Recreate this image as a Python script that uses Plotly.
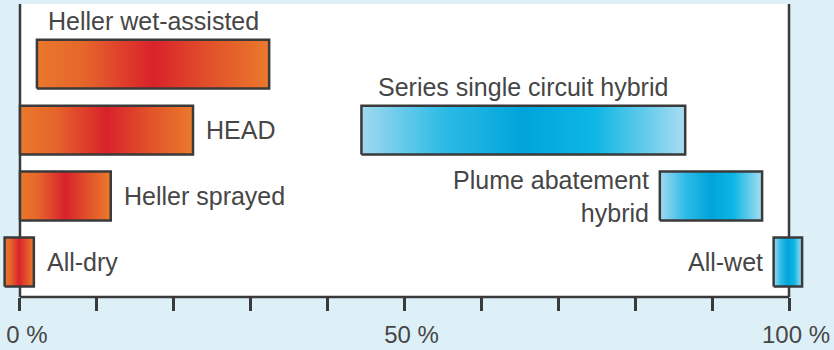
import plotly.graph_objects as go

# ---- data ----
labels = ["Heller wet-assisted", "HEAD", "Heller sprayed", "All-dry",
          "Series single circuit hybrid", "Plume abatement<br>hybrid", "All-wet"]
starts = [2.2, 0.0, 0.0, -2.0, 44.4, 83.2, 98.0]
ends = [32.4, 22.5, 11.8, 1.8, 86.5, 96.5, 101.7]
rows = [3, 2, 1, 0, 2, 1, 0]
kind = ["dry", "dry", "dry", "dry", "wet", "wet", "wet"]
label_side = ["above", "right", "right", "right", "above", "left", "left"]
tick_vals = [0, 10, 20, 30, 40, 50, 60, 70, 80, 90, 100]
tick_text = ["0 %", "", "", "", "", "50 %", "", "", "", "", "100 %"]

# ---- style ----
FONT = "Liberation Sans, Arial, Helvetica, sans-serif"
TXT = "#464646"
EDGE = "#3a3a3a"
BG = "#ddf0f8"
HALF = 0.37
scales = {
    "dry": [[0, "#e9782b"], [0.2, "#e6662b"], [0.5, "#d9222b"], [0.75, "#e2522a"], [1, "#ea7a2c"]],
    "wet": [[0, "#a2d9f0"], [0.25, "#2ebbe6"], [0.5, "#00a4da"], [0.72, "#0db6e4"], [1, "#a8dcf1"]],
}

fig = go.Figure()
for s, e, r, k in zip(starts, ends, rows, kind):
    fig.add_trace(go.Scatter(
        x=[s, e, e, s, s],
        y=[r - HALF, r - HALF, r + HALF, r + HALF, r - HALF],
        mode="lines", fill="toself",
        fillgradient=dict(type="horizontal", colorscale=scales[k]),
        line=dict(color=EDGE, width=2.5),
        hoverinfo="skip", showlegend=False,
    ))

annotations = []
for lab, s, e, r, side in zip(labels, starts, ends, rows, label_side):
    if side == "above":
        annotations.append(dict(x=(s + e) / 2, y=r, yshift=43, text=lab, xanchor="center",
                                yanchor="middle", showarrow=False))
    elif side == "right":
        annotations.append(dict(x=e, y=r, xshift=11, text=lab, xanchor="left",
                                yanchor="middle", showarrow=False))
    else:
        annotations.append(dict(x=s, y=r, xshift=-9, text=lab, xanchor="right", align="right",
                                yanchor="middle", showarrow=False))
for a in annotations:
    a.update(xref="x", yref="y", font=dict(family=FONT, size=25, color=TXT))

shapes = [
    dict(type="rect", xref="x", yref="paper", x0=0, x1=100, y0=0, y1=1,
         fillcolor="white", line=dict(width=0), layer="below"),
    dict(type="line", xref="x", yref="paper", x0=0, x1=0, y0=0, y1=1,
         line=dict(color=EDGE, width=2.5), layer="below"),
    dict(type="line", xref="x", yref="paper", x0=100, x1=100, y0=0, y1=1,
         line=dict(color=EDGE, width=2.5), layer="below"),
    dict(type="line", xref="x", yref="paper", x0=0, x1=100, y0=0, y1=0,
         line=dict(color=EDGE, width=2.5), layer="below"),
]

fig.update_layout(
    width=834, height=350,
    margin=dict(l=0, r=0, t=4, b=53),
    paper_bgcolor=BG, plot_bgcolor=BG,
    annotations=annotations, shapes=shapes,
    xaxis=dict(range=[-2.6, 105.85], showgrid=False, zeroline=False, showline=False,
               tickvals=tick_vals, ticktext=tick_text, ticks="outside", ticklen=13,
               tickwidth=2.5, tickcolor=EDGE, ticklabelshift=7, ticklabelstandoff=3,
               tickfont=dict(family=FONT, size=24, color=TXT), fixedrange=True),
    yaxis=dict(range=[-0.53, 3.91], visible=False, fixedrange=True),
)

fig.write_html("out.html")
